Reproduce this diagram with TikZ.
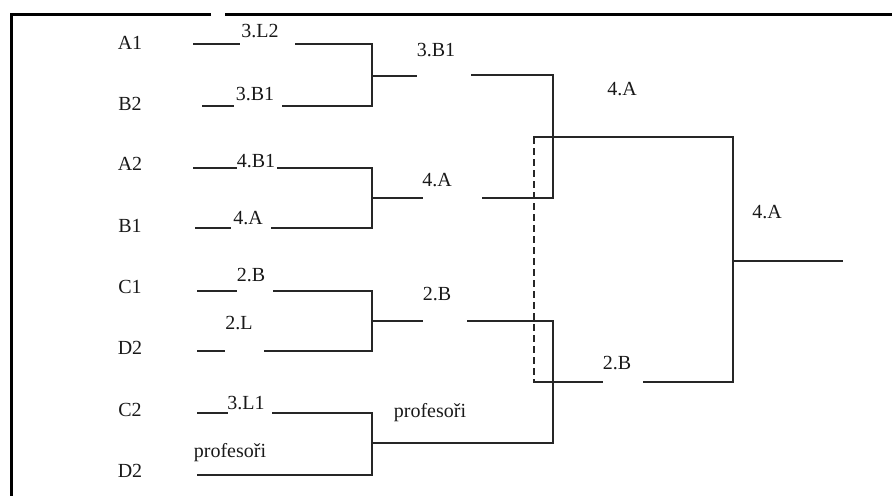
\documentclass[tikz,border=0pt]{standalone}
\usepackage{fontspec}
\setmainfont{Liberation Serif}
\newcommand\lblfont{\fontsize{20}{22}\selectfont}
\begin{document}
\begin{tikzpicture}[x=1pt,y=-1pt,
  br/.style={line width=1.4pt, draw=black!85, line cap=rect},
  frm/.style={line width=3pt, draw=black},
  lbl/.style={font=\lblfont, inner sep=0pt, text=black!90},
  dsh/.style={line width=1.3pt, draw=black!85, dash pattern=on 7pt off 4pt}]
\useasboundingbox (0,0) rectangle (892,496);
% frame
\draw[frm] (892,14) -- (225,14);
\draw[frm] (211,14) -- (11,14) -- (11,496);
% team labels
\node[lbl] (A1) at (130,43) {A1};
\node[lbl] (B2) at (130,104) {B2};
\node[lbl] (A2) at (130,164) {A2};
\node[lbl] (B1) at (130,226) {B1};
\node[lbl] (C1) at (130,287) {C1};
\node[lbl] (D2a) at (130,348) {D2};
\node[lbl] (C2) at (130,410) {C2};
\node[lbl] (D2b) at (130,471) {D2};
% result labels
\node[lbl] (r1) at (260,31) {3.L2};
\node[lbl] (r2) at (255,94) {3.B1};
\node[lbl] (r3) at (256,161) {4.B1};
\node[lbl] (r4) at (248,218) {4.A};
\node[lbl] (r5) at (251,275) {2.B};
\node[lbl] (r6) at (239,323) {2.L};
\node[lbl] (r7) at (246,403) {3.L1};
\node[lbl] (r8) at (230,453) {profesoři};
\node[lbl] (s1) at (436,50) {3.B1};
\node[lbl] (s2) at (437,180) {4.A};
\node[lbl] (s3) at (437,294) {2.B};
\node[lbl] (s4) at (430,413) {profesoři};
\node[lbl] (t1) at (622,89) {4.A};
\node[lbl] (t2) at (617,363) {2.B};
\node[lbl] (w) at (767,212) {4.A};
% coordinates of the bracket
\coordinate (j1t) at (372,44);  \coordinate (j1b) at (372,106); \coordinate (j1m) at (372,76);
\coordinate (j2t) at (372,168); \coordinate (j2b) at (372,228); \coordinate (j2m) at (372,198);
\coordinate (j3t) at (372,291); \coordinate (j3b) at (372,351); \coordinate (j3m) at (372,321);
\coordinate (j4t) at (372,413); \coordinate (j4b) at (372,475); \coordinate (j4m) at (372,443);
\coordinate (k1t) at (553,75);  \coordinate (k1b) at (553,198);
\coordinate (k2t) at (553,321); \coordinate (k2b) at (553,443);
\coordinate (f1) at (534,137); \coordinate (f2) at (733,137);
\coordinate (f3) at (733,382); \coordinate (f4) at (534,382);
\coordinate (fm) at (733,261); \coordinate (out) at (842,261);
% first round
\draw[br] (194,44) -- (239,44);
\draw[br] (296,44) -- (j1t) -- (j1b) -- (283,106);
\draw[br] (203,106) -- (233,106);
\draw[br] (194,168) -- (236,168);
\draw[br] (278,168) -- (j2t) -- (j2b) -- (272,228);
\draw[br] (196,228) -- (230,228);
\draw[br] (198,291) -- (236,291);
\draw[br] (274,291) -- (j3t) -- (j3b) -- (265,351);
\draw[br] (198,351) -- (224,351);
\draw[br] (198,413) -- (227,413);
\draw[br] (273,413) -- (j4t) -- (j4b) -- (198,475);
% second round
\draw[br] (j1m) -- (416,76);
\draw[br] (472,75) -- (k1t) -- (k1b) -- (483,198);
\draw[br] (j2m) -- (422,198);
\draw[br] (j3m) -- (422,321);
\draw[br] (468,321) -- (k2t) -- (k2b) -- (j4m);
% final
\draw[dsh] (f1) -- (f4);
\draw[br] (f1) -- (f2) -- (f3) -- (644,382);
\draw[br] (f4) -- (602,382);
\draw[br] (fm) -- (out);
\end{tikzpicture}
\end{document}
